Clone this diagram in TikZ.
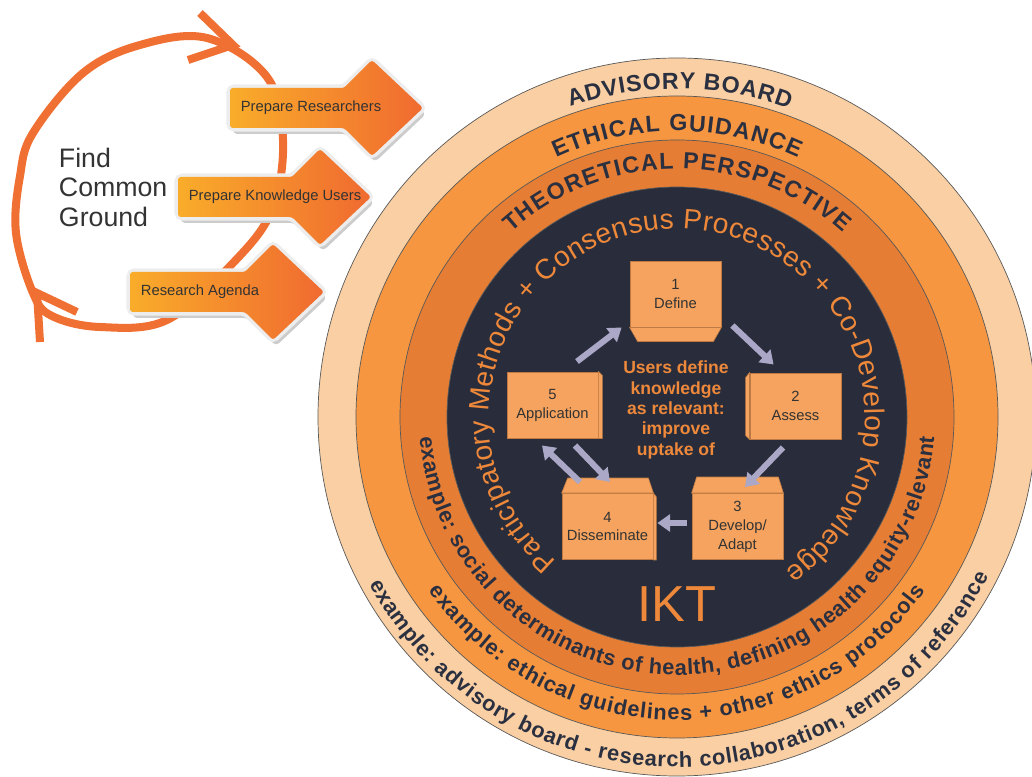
\documentclass[tikz,border=0pt]{standalone}
\usepackage{fontspec}
\setmainfont{Liberation Sans}
\usetikzlibrary{positioning, calc, arrows.meta, decorations.text}
\definecolor{ringpeach}{RGB}{249,207,163}
\definecolor{ringorange}{RGB}{246,150,64}
\definecolor{ringdeep}{RGB}{229,125,52}
\definecolor{iktnavy}{RGB}{41,45,59}
\definecolor{labelnavy}{RGB}{43,48,64}
\definecolor{iktorange}{RGB}{238,136,58}
\definecolor{boxorange}{RGB}{245,163,94}
\definecolor{boxedge}{RGB}{190,122,66}
\definecolor{loopred}{RGB}{239,112,50}
\definecolor{bannerleft}{RGB}{249,172,42}
\definecolor{bannerright}{RGB}{240,106,48}
\definecolor{stepgrey}{RGB}{170,168,198}
\definecolor{textgrey}{RGB}{51,51,51}

\newcommand{\headfont}{\bfseries\fontsize{16.5}{19}\selectfont}
\newcommand{\examplefont}{\bfseries\fontsize{15.5}{18}\selectfont}
\newcommand{\methodfont}{\fontsize{20}{23}\selectfont}

\begin{document}
\begin{tikzpicture}[
    x=0.025cm, y=0.025cm,
    stage/.style={rectangle, draw=boxedge, fill=boxorange, line width=0.4pt, minimum width=2.28cm, minimum height=1.66cm, inner sep=0pt, align=center, text=textgrey, font=\fontsize{10.5}{13.5}\selectfont},
    flap/.style={draw=boxedge, fill=boxorange, line width=0.4pt},
    flow/.style={-{Triangle[width=12pt, length=9pt]}, stepgrey, line width=4.3pt},
    ring/.style={draw=black!65, line width=0.5pt},
    loopline/.style={loopred, line width=5.7pt}
]
\useasboundingbox (0,0) rectangle (1032,776);
\clip (0,0) rectangle (1032,776);

% Find common ground loop
\draw[loopline] plot[smooth cycle, tension=0.6] coordinates {(207,738) (267,699) (283,636) (272,566) (233,513) (167,456) (100,449) (52,460) (33,483) (16,543) (20,600) (33,643) (83,703) (140,731)};
\draw[loopline] (200,763) -- (233,731) -- (188,716);
\draw[loopline] (40,434) -- (37,483) -- (77,464);
\node[anchor=west, align=left, text=textgrey, font=\fontsize{19}{21}\selectfont] (common) at (54,589) {Find\\Common\\Ground};

% Banners
\foreach \bx/\by/\hx/\tx/\nm/\txt in {230/668/372/311/prep/Prepare Researchers, 178/579/320/275/know/Prepare Knowledge Users, 130/484/273/200/agenda/Research Agenda} {
  \fill[black!20, rounded corners=3pt] (\bx+3,{\by+14}) -- ({\hx-25},{\by+14}) -- (\hx+3,{\by+42}) -- ({\hx+54},\by-6) -- (\hx+3,{\by-54}) -- ({\hx-25},{\by-26}) -- (\bx+3,{\by-26}) -- cycle;
  \draw[draw=black!7, fill=black!7, line width=5pt, rounded corners=3pt] (\bx,{\by+20}) -- ({\hx-28},{\by+20}) -- (\hx,{\by+48}) -- ({\hx+51},\by) -- (\hx,{\by-48}) -- ({\hx-28},{\by-20}) -- (\bx,{\by-20}) -- cycle;
  \shade[left color=bannerleft, right color=bannerright, rounded corners=2pt] (\bx,{\by+20}) -- ({\hx-28},{\by+20}) -- (\hx,{\by+48}) -- ({\hx+51},\by) -- (\hx,{\by-48}) -- ({\hx-28},{\by-20}) -- (\bx,{\by-20}) -- cycle;
  \node[text=textgrey, font=\fontsize{10.5}{12}\selectfont] (\nm) at (\tx,\by) {\txt};
}

% Rings
\coordinate (hub) at (677,359);
\fill[ringpeach, ring] (hub) circle[radius=359];
\fill[ringorange, ring] (hub) circle[radius=321];
\fill[ringdeep, ring] (hub) circle[radius=277];
\fill[iktnavy, ring] (hub) circle[radius=230];

% Ring headings
\path[decorate, decoration={text along path, text={|\headfont|ADVISORY BOARD}, text align=fit to path, text color=labelnavy}] ($(hub)+(109:328)$) arc[start angle=109, end angle=70, radius=328];
\path[decorate, decoration={text along path, text={|\headfont|ETHICAL GUIDANCE}, text align=fit to path, text color=labelnavy}] ($(hub)+(115:286)$) arc[start angle=115, end angle=65, radius=286];
\path[decorate, decoration={text along path, text={|\headfont|THEORETICAL PERSPECTIVE}, text align=fit to path, text color=labelnavy}] ($(hub)+(132:248)$) arc[start angle=132, end angle=48, radius=248];

% Ring examples
\path[decorate, decoration={text along path, text={|\examplefont|example: advisory board - research collaboration, terms of reference}, text align=fit to path, text color=labelnavy}] ($(hub)+(208.5:350)$) arc[start angle=208.5, end angle=333, radius=350];
\path[decorate, decoration={text along path, text={|\examplefont|example: ethical guidelines + other ethics protocols}, text align=fit to path, text color=labelnavy}] ($(hub)+(215:303)$) arc[start angle=215, end angle=325, radius=303];
\path[decorate, decoration={text along path, text={|\examplefont|example: social determinants of health, defining health equity-relevant}, text align=fit to path, text color=labelnavy}] ($(hub)+(184.5:258)$) arc[start angle=184.5, end angle=355.5, radius=258];

% Inner methods
\path[decorate, decoration={text along path, text={|\methodfont|Participatory Methods + Consensus Processes + Co-Develop Knowledge}, text align=fit to path, text color=iktorange}] ($(hub)+(230:188)$) arc[start angle=230, end angle=-55, radius=188];

% Stages
\node[stage] (b1) at (675.5,482) {1\\Define};
\node[stage] (b2) at (795.5,370) {2\\Assess};
\node[stage] (b3) at (737.5,249.5) {3\\Develop/\\Adapt};
\node[stage] (b4) at (607.5,249.5) {4\\Disseminate};
\node[stage] (b5) at (552.5,371) {5\\Application};

\draw[flap] (b1.south west) -- (b1.south east) -- ++(-8,-14) -- ($(b1.south west)+(8,-14)$) -- cycle;
\draw[flap] (b2.north west) -- ++(-4,-5) -- ($(b2.south west)+(-4,4)$) -- (b2.south west) -- cycle;
\draw[flap] (b3.north west) -- (b3.north east) -- ++(-5,16) -- ($(b3.north west)+(5,16)$) -- cycle;
\draw[flap] (b4.north west) -- (b4.north east) -- ++(-5,15) -- ($(b4.north west)+(6,15)$) -- cycle;
\draw[flap] (b4.north east) -- ++(3,-4) -- ($(b4.south east)+(3,0)$) -- (b4.south east) -- cycle;
\draw[flap] (b5.north east) -- ++(4,-4) -- ($(b5.south east)+(4,0)$) -- (b5.south east) -- cycle;

% Cycle arrows
\draw[flow] ($(b5.north)+(24.5,10)$) -- ($(b1.south west)+(-8,0)$);
\draw[flow] ($(b1.south east)+(11,2)$) -- ($(b2.north west)+(24,8)$);
\draw[flow] ($(b2.south)+(-12.5,-8)$) -- ($(b3.north)+(7.5,6)$);
\draw[flow] ($(b3.west)+(-5,3.5)$) -- ($(b4.east)+(4,3.5)$);
\draw[flow] ($(b4.north)+(-27.5,11)$) -- ($(b5.south)+(-10.5,-7)$);
\draw[flow] ($(b5.south)+(22.5,-7)$) -- ($(b4.north)+(2.5,11)$);

% Centre
\node[align=center, text=iktorange, font=\bfseries\fontsize{12.5}{14.5}\selectfont] (core) at (676,366) {Users define\\knowledge\\as relevant:\\improve\\uptake of};
\node[text=iktorange, font=\fontsize{36}{40}\selectfont] (ikt) at (677,172) {IKT};

\end{tikzpicture}
\end{document}
